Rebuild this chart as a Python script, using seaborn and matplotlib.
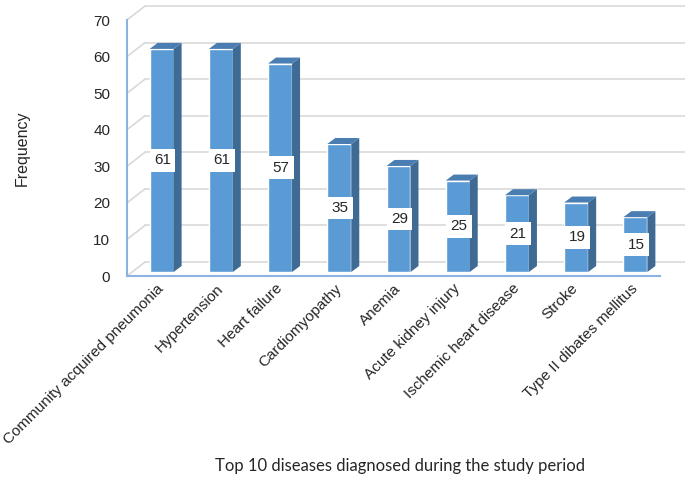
import matplotlib
matplotlib.use('Agg')
import matplotlib.pyplot as plt
import matplotlib.transforms as mtransforms
from matplotlib.patches import Polygon
from matplotlib.lines import Line2D
import pandas as pd
import seaborn as sns

# Dados do gráfico
doencas = ['Community acquired pneumonia', 'Hypertension', 'Heart failure',
           'Cardiomyopathy', 'Anemia', 'Acute kidney injury',
           'Ischemic heart disease', 'Stroke', 'Type II dibates mellitus']
frequencia = [61, 61, 57, 35, 29, 25, 21, 19, 15]
yticks = [0, 10, 20, 30, 40, 50, 60, 70]

dados = pd.DataFrame({'Doenca': doencas, 'Frequencia': frequencia})

sns.set_style('white')
plt.rcParams['font.family'] = ['Liberation Sans', 'DejaVu Sans']

DPI = 100
fig = plt.figure(figsize=(6.85, 4.8), dpi=DPI)
ax = fig.add_axes([127 / 685, 204 / 480, 533 / 685, 256 / 480])

sns.barplot(data=dados, x='Doenca', y='Frequencia', color='#5B9BD5',
            width=0.405, saturation=1, ax=ax, zorder=3)
ax.set_xlim(-0.5, len(doencas) - 0.5)
ax.set_ylim(0, 70)
ax.set_yticks(yticks)

# profundidade (pixels)
wall_dx, wall_dy = 18, 14
bar_dx, bar_dy = 5, 4
side_dx, side_dy = 8, 6

ident = mtransforms.IdentityTransform()
fig.canvas.draw()
td = ax.transData

# parede do fundo + linhas diagonais
for y in yticks:
    x0, y0 = td.transform((-0.5, y))
    x1, _ = td.transform((len(doencas) - 0.5, y))
    ax.add_line(Line2D([x0 + wall_dx, x1 + wall_dx + 7], [y0 + wall_dy, y0 + wall_dy],
                       color='#D9D9D9', lw=1.2, transform=ident, clip_on=False, zorder=1))
    ax.add_line(Line2D([x0, x0 + wall_dx], [y0, y0 + wall_dy],
                       color='#D9D9D9', lw=1.2, transform=ident, clip_on=False, zorder=1))

# barras em "3D"
shift = mtransforms.ScaledTranslation(bar_dx / DPI, bar_dy / DPI, fig.dpi_scale_trans)
for p, v in zip(ax.patches, frequencia):
    p.set_transform(td + shift)
    xl = p.get_x()
    xr = p.get_x() + p.get_width()
    (ax0, ay0) = td.transform((xl, 0)) + (bar_dx, bar_dy)
    (bx0, by0) = td.transform((xr, 0)) + (bar_dx, bar_dy)
    (_, ay1) = td.transform((xl, v)) + (bar_dx, bar_dy)
    side = Polygon([(bx0, by0), (bx0, ay1), (bx0 + side_dx, ay1 + side_dy),
                    (bx0 + side_dx, by0 + side_dy)], closed=True,
                   facecolor='#3E6A93', edgecolor='none', transform=ident,
                   clip_on=False, zorder=3)
    top = Polygon([(ax0, ay1), (bx0, ay1), (bx0 + side_dx, ay1 + side_dy),
                   (ax0 + side_dx, ay1 + side_dy)], closed=True,
                  facecolor='#4A7EB3', edgecolor='none', transform=ident,
                  clip_on=False, zorder=3)
    ax.add_patch(side)
    ax.add_patch(top)
    cx = (ax0 + bx0) / 2 + 1
    _, cy = td.transform((0, v / 2))
    ax.text(cx, cy + bar_dy, str(v), transform=ident, ha='center', va='center',
            fontsize=11, zorder=5,
            bbox=dict(boxstyle='square,pad=0.28', facecolor='white', edgecolor='none'))

for s in ['top', 'right']:
    ax.spines[s].set_visible(False)
for s in ['left', 'bottom']:
    ax.spines[s].set_color('#8DB3E2')
    ax.spines[s].set_linewidth(1.5)
    ax.spines[s].set_zorder(4)

ax.tick_params(axis='y', length=0, pad=12, labelsize=11)
ax.tick_params(axis='x', length=0, pad=4, labelsize=11)
plt.setp(ax.get_xticklabels(), rotation=45, ha='right', rotation_mode='anchor')

ax.set_ylabel('Frequency', fontsize=11.5, va='center')
ax.yaxis.set_label_coords((22 - 127) / 533, (276 - 148) / 256)
ax.set_xlabel('Top 10 diseases diagnosed during the study period',
              fontsize=12, family=['Lato', 'DejaVu Sans'])
ax.xaxis.set_label_coords((400 - 127) / 533, -(466 - 276) / 256)
ax.xaxis.label.set_va('center')

fig.savefig('out.png', dpi=DPI)
